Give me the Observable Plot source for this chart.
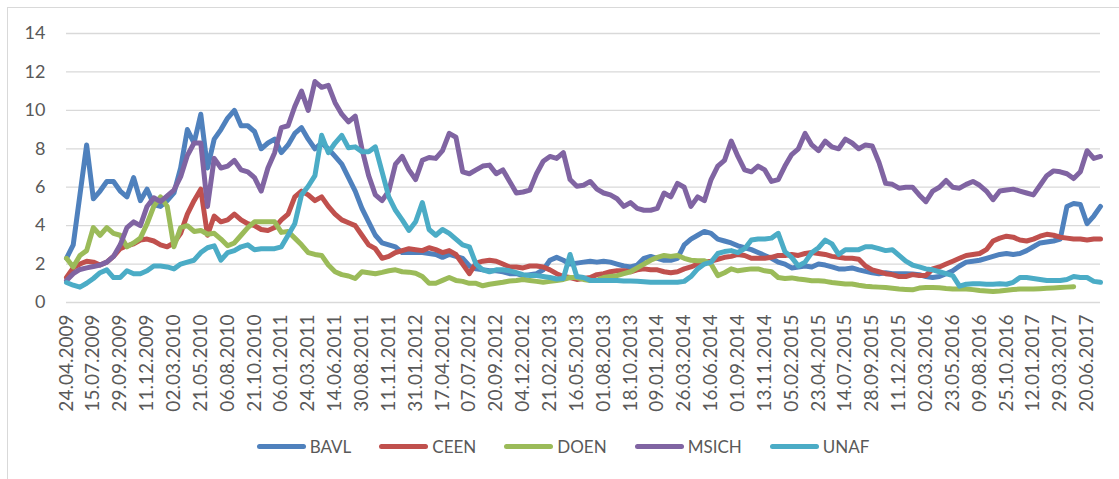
<!DOCTYPE html>
<html><head><meta charset="utf-8">
<script src="https://cdn.jsdelivr.net/npm/d3@7"></script>
<script src="https://cdn.jsdelivr.net/npm/@observablehq/plot@0.6"></script>
<style>
html,body{margin:0;padding:0;background:#fff;overflow:hidden;}
#wrap{position:relative;width:1119px;height:479px;font-family:Lato,"Open Sans",sans-serif;color:#595959;}
#frame{position:absolute;left:7px;top:7px;width:1130px;height:490px;border:1px solid #d9d9d9;box-sizing:border-box;}
#chart{position:absolute;left:0;top:0;}
#legend{position:absolute;left:7px;top:436px;width:1112px;display:flex;justify-content:center;align-items:center;font-size:17px;color:#595959;}
.item{display:flex;align-items:center;margin:0 14px;}
.sw{width:49px;height:5px;border-radius:3px;margin-right:4px;}
</style></head>
<body><div id="wrap"><div id="frame"></div><div id="chart"></div><div id="legend"></div></div>
<script>
const tickLabels = ["24.04.2009","15.07.2009","29.09.2009","11.12.2009","02.03.2010","21.05.2010","06.08.2010","21.10.2010","06.01.2011","24.03.2011","14.06.2011","30.08.2011","11.11.2011","31.01.2012","17.04.2012","07.07.2012","20.09.2012","04.12.2012","21.02.2013","16.05.2013","01.08.2013","18.10.2013","09.01.2014","26.03.2014","16.06.2014","01.09.2014","13.11.2014","05.02.2015","23.04.2015","14.07.2015","28.09.2015","11.12.2015","02.03.2016","23.05.2016","09.08.2016","25.10.2016","12.01.2017","29.03.2017","20.06.2017"];
const pointsPerLabel = 4;
const yTicks = [0,2,4,6,8,10,12,14];
const seriesNames = ["BAVL","CEEN","DOEN","MSICH","UNAF"];
const seriesColors = ["#4F81BD","#C0504D","#9BBB59","#8064A2","#4BACC6"];

const BAVL = [
2.3,3.0,5.6,8.2,5.4,5.8,6.3,6.3,5.8,5.5,
6.5,5.3,5.9,5.1,5.0,5.3,5.7,7.0,9.0,8.3,
9.8,7.0,8.5,9.0,9.6,10.0,9.2,9.2,8.9,8.0,
8.3,8.5,7.8,8.2,8.8,9.1,8.5,8.0,8.3,8.0,
7.6,7.2,6.5,5.8,4.9,4.2,3.5,3.1,3.0,2.9,
2.6,2.6,2.6,2.6,2.55,2.5,2.35,2.5,2.4,2.3,
1.9,1.75,1.7,1.65,1.65,1.6,1.5,1.5,1.4,1.45,
1.5,1.7,2.2,2.35,2.2,2.0,2.05,2.1,2.15,2.1,
2.15,2.1,2.0,1.9,1.85,1.95,2.3,2.4,2.3,2.2,
2.2,2.3,3.0,3.3,3.5,3.7,3.6,3.3,3.2,3.1,
2.95,2.85,2.75,2.6,2.45,2.3,2.1,2.0,1.8,1.85,
1.9,1.85,2.0,1.95,1.85,1.75,1.75,1.8,1.7,1.62,
1.55,1.5,1.55,1.5,1.5,1.5,1.48,1.45,1.35,1.3,
1.35,1.5,1.65,1.9,2.1,2.15,2.2,2.3,2.4,2.5,
2.55,2.5,2.55,2.7,2.9,3.1,3.15,3.2,3.3,5.0,
5.15,5.1,4.1,4.5,5.0];
const CEEN = [
1.3,1.8,2.0,2.15,2.1,1.95,2.1,2.4,2.8,2.95,
3.05,3.25,3.3,3.2,3.0,2.9,3.1,3.6,4.6,5.3,
5.9,3.5,4.5,4.2,4.3,4.6,4.3,4.1,4.0,3.8,
3.75,3.9,4.3,4.6,5.5,5.8,5.6,5.3,5.5,5.0,
4.6,4.3,4.15,4.0,3.5,3.0,2.8,2.3,2.4,2.6,
2.7,2.8,2.75,2.7,2.85,2.75,2.6,2.7,2.5,2.0,
1.5,2.05,2.15,2.2,2.15,2.0,1.85,1.85,1.8,1.9,
1.9,1.85,1.7,1.5,1.35,1.3,1.2,1.25,1.3,1.45,
1.5,1.6,1.65,1.65,1.6,1.7,1.75,1.7,1.7,1.6,
1.55,1.6,1.75,1.85,2.0,2.1,2.15,2.25,2.35,2.4,
2.5,2.45,2.3,2.3,2.3,2.35,2.45,2.45,2.5,2.45,
2.55,2.6,2.55,2.5,2.4,2.35,2.3,2.3,2.25,1.9,
1.7,1.6,1.5,1.45,1.35,1.35,1.45,1.4,1.4,1.75,
1.85,2.0,2.15,2.3,2.45,2.5,2.55,2.75,3.2,3.35,
3.45,3.4,3.25,3.2,3.3,3.45,3.55,3.5,3.4,3.35,
3.3,3.3,3.25,3.3,3.3];
const DOEN = [
2.3,1.85,2.45,2.7,3.9,3.5,3.9,3.6,3.5,2.9,
3.1,3.35,4.1,5.0,5.5,5.0,2.9,3.9,4.0,3.7,
3.75,3.55,3.6,3.3,2.95,3.1,3.5,3.9,4.2,4.2,
4.2,4.2,3.65,3.7,3.35,3.0,2.6,2.5,2.45,1.95,
1.6,1.45,1.38,1.25,1.6,1.55,1.5,1.57,1.65,1.7,
1.6,1.58,1.52,1.35,1.0,1.0,1.15,1.3,1.15,1.1,
1.0,1.0,0.87,0.95,1.0,1.05,1.12,1.15,1.2,1.15,
1.1,1.05,1.1,1.15,1.2,1.3,1.3,1.2,1.15,1.15,
1.3,1.35,1.4,1.5,1.6,1.8,2.0,2.2,2.35,2.45,
2.4,2.45,2.3,2.2,2.17,2.17,2.0,1.4,1.55,1.75,
1.65,1.7,1.75,1.75,1.65,1.6,1.3,1.25,1.28,1.22,
1.18,1.13,1.13,1.1,1.04,1.0,0.96,0.96,0.9,0.85,
0.82,0.8,0.78,0.74,0.7,0.68,0.66,0.75,0.78,0.78,
0.77,0.73,0.7,0.7,0.7,0.67,0.63,0.6,0.57,0.6,
0.64,0.68,0.7,0.7,0.7,0.72,0.74,0.76,0.78,0.8,
0.82,null,null,null,null];
const MSICH = [
1.15,1.5,1.72,1.8,1.87,1.95,2.1,2.4,3.0,3.9,
4.2,4.0,5.0,5.45,5.25,5.55,5.85,6.55,7.65,8.3,
8.3,5.0,7.5,7.0,7.1,7.4,6.9,6.8,6.5,5.8,
7.0,7.8,9.1,9.2,10.2,11.0,10.0,11.5,11.2,11.3,
10.4,9.8,9.4,9.7,8.0,6.6,5.6,5.3,5.8,7.2,
7.6,6.9,6.4,7.4,7.55,7.5,7.9,8.8,8.6,6.8,
6.7,6.9,7.1,7.15,6.7,6.9,6.3,5.7,5.75,5.85,
6.7,7.35,7.6,7.5,7.8,6.4,6.05,6.1,6.3,5.9,
5.7,5.6,5.4,5.0,5.2,4.9,4.8,4.8,4.9,5.7,
5.5,6.2,6.0,5.0,5.5,5.3,6.4,7.1,7.4,8.4,
7.6,6.9,6.8,7.1,6.9,6.3,6.4,7.1,7.7,8.0,
8.8,8.2,7.9,8.4,8.1,8.0,8.5,8.3,8.0,8.2,
8.15,7.3,6.2,6.15,5.95,6.0,6.0,5.6,5.25,5.8,
6.0,6.35,6.0,5.95,6.15,6.3,6.1,5.8,5.35,5.8,
5.85,5.9,5.8,5.7,5.6,6.1,6.6,6.85,6.8,6.7,
6.45,6.8,7.9,7.5,7.6];
const UNAF = [
1.04,0.9,0.8,1.0,1.25,1.55,1.7,1.3,1.3,1.65,
1.5,1.5,1.65,1.9,1.9,1.85,1.75,2.0,2.1,2.2,
2.6,2.85,2.95,2.2,2.6,2.7,2.9,3.0,2.75,2.8,
2.8,2.8,2.9,3.5,4.1,5.6,6.05,6.6,8.7,7.8,
8.3,8.7,8.05,8.1,7.85,7.85,8.1,6.8,5.5,4.8,
4.3,3.75,4.2,5.2,3.8,3.5,3.8,3.6,3.3,3.0,
2.9,2.0,1.7,1.6,1.7,1.7,1.65,1.55,1.45,1.4,
1.4,1.35,1.3,1.22,1.25,2.5,1.35,1.3,1.15,1.15,
1.15,1.15,1.15,1.12,1.12,1.1,1.08,1.05,1.05,1.05,
1.05,1.05,1.1,1.35,1.75,2.0,2.1,2.55,2.65,2.7,
2.6,2.8,3.25,3.3,3.3,3.35,3.6,2.65,2.35,1.9,
2.1,2.6,2.85,3.25,3.05,2.5,2.75,2.75,2.75,2.9,
2.9,2.8,2.7,2.75,2.45,2.15,1.95,1.85,1.75,1.7,
1.6,1.5,1.4,0.85,0.95,0.97,0.97,0.95,0.95,0.97,
0.95,1.05,1.3,1.3,1.25,1.2,1.15,1.15,1.15,1.2,
1.35,1.3,1.3,1.1,1.05];

const seriesValues = [BAVL, CEEN, DOEN, MSICH, UNAF];
const rows = [];
seriesNames.forEach((name, s) => seriesValues[s].forEach((v, i) => rows.push({name, i, v})));
const lastIndex = BAVL.length - 1;
const xTicks = tickLabels.map((_, j) => j * pointsPerLabel);

const chart = Plot.plot({
  width: 1119, height: 430,
  marginLeft: 66, marginRight: 19, marginTop: 33, marginBottom: 128,
  style: {fontFamily: "Lato, 'Open Sans', sans-serif", color: "#595959", background: "transparent"},
  x: {domain: [0, lastIndex], axis: null},
  y: {domain: [0, 14], axis: null},
  color: {domain: seriesNames, range: seriesColors},
  marks: [
    Plot.gridY(yTicks, {stroke: "#d9d9d9", strokeOpacity: 1, strokeWidth: 1.3}),
    Plot.axisY(yTicks, {tickSize: 0, tickPadding: 21, fontSize: 18, label: null}),
    Plot.axisX(xTicks, {tickSize: 0, tickPadding: 12, tickRotate: -90, fontSize: 19, label: null, tickFormat: d => tickLabels[d / pointsPerLabel]}),
    Plot.line(rows, {x: "i", y: "v", z: "name", stroke: "name", strokeWidth: 5, strokeLinejoin: "round", strokeLinecap: "round"})
  ]
});
document.getElementById("chart").appendChild(chart);

const legend = document.getElementById("legend");
seriesNames.forEach((n, s) => {
  const it = document.createElement("div"); it.className = "item";
  const sw = document.createElement("div"); sw.className = "sw"; sw.style.background = seriesColors[s];
  const tx = document.createElement("span"); tx.textContent = n;
  it.appendChild(sw); it.appendChild(tx); legend.appendChild(it);
});
</script></body></html>
